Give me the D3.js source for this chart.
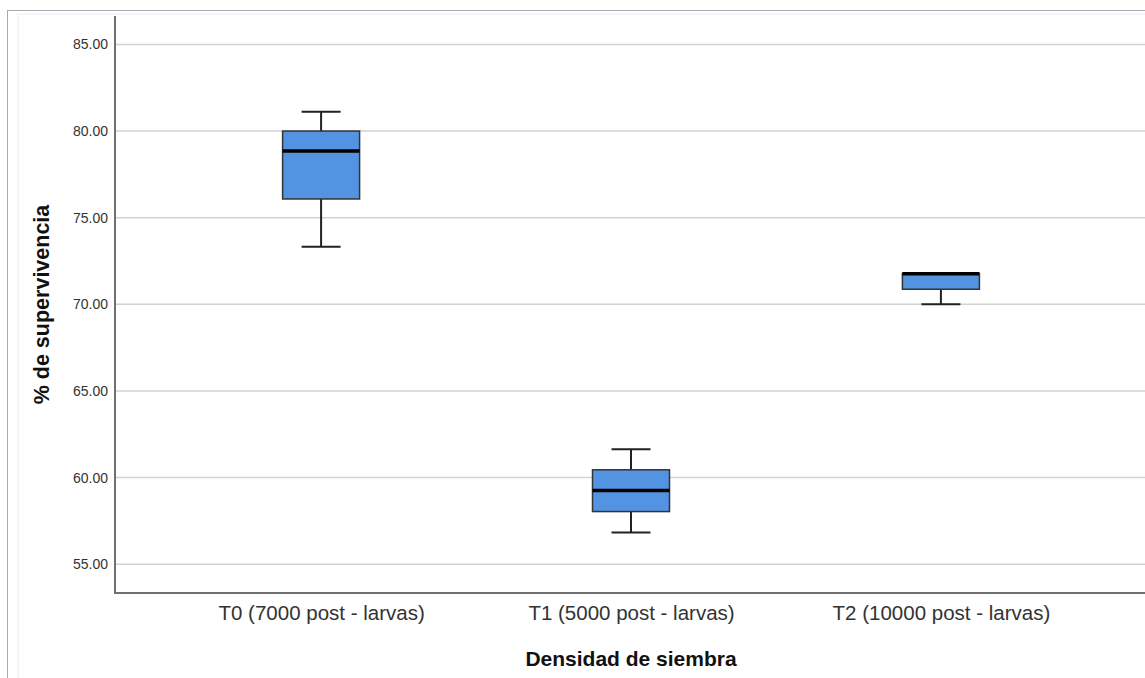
<!DOCTYPE html>
<html>
<head>
<meta charset="utf-8">
<script src="https://cdn.jsdelivr.net/npm/d3@7"></script>
<style>
  body { margin: 0; background: #fff; }
  svg { display: block; font-family: "Liberation Sans", Arial, sans-serif; }
</style>
</head>
<body>
<script>
const categories = ["T0 (7000 post - larvas)", "T1 (5000 post - larvas)", "T2 (10000 post - larvas)"];
const whiskerLow = [73.33, 56.83, 70.0];
const q1 = [76.08, 58.04, 70.87];
const medians = [78.85, 59.25, 71.76];
const q3 = [80.0, 60.45, 71.78];
const whiskerHigh = [81.12, 61.64, 71.78];
const yTicks = [55, 60, 65, 70, 75, 80, 85];

const w = 1145, h = 678;
const plotLeft = 115, plotTop = 16, plotBottom = 593, plotRight = 1147;

const svg = d3.select("body").append("svg").attr("width", w).attr("height", h);

// outer frame
svg.append("rect").attr("x", 7.5).attr("y", 10.5).attr("width", w + 10).attr("height", h + 10)
  .attr("fill", "none").attr("stroke", "#aaa").attr("stroke-width", 1);
svg.append("rect").attr("x", 18).attr("y", 14).attr("width", w).attr("height", h)
  .attr("fill", "none").attr("stroke", "#f0f6fd").attr("stroke-width", 2);

const y = d3.scaleLinear().domain([53.34, 86.64]).range([plotBottom, plotTop]);
const x = d3.scalePoint().domain(categories).range([plotLeft, plotRight]).padding(0.665);

const data = categories.map((c, i) => ({
  cat: c, lo: whiskerLow[i], q1: q1[i], med: medians[i], q3: q3[i], hi: whiskerHigh[i]
}));

// gridlines
svg.append("g").selectAll("line").data(yTicks).enter().append("line")
  .attr("x1", plotLeft).attr("x2", w)
  .attr("y1", d => y(d)).attr("y2", d => y(d))
  .attr("stroke", "#d2d2d2").attr("stroke-width", 1.5);

// y axis
const yAxis = svg.append("g").attr("transform", "translate(" + plotLeft + ",0)")
  .call(d3.axisLeft(y).tickValues(yTicks).tickSize(0).tickPadding(7).tickFormat(d3.format(".2f")));
yAxis.select(".domain").remove();
yAxis.selectAll("text").attr("font-size", "14px").attr("fill", "#333");

// x axis
const xAxis = svg.append("g").attr("transform", "translate(0," + plotBottom + ")")
  .call(d3.axisBottom(x).tickSize(0).tickPadding(12));
xAxis.select(".domain").remove();
xAxis.selectAll("text").attr("font-size", "20.5px").attr("fill", "#333");

svg.append("line").attr("x1", plotLeft).attr("x2", plotLeft).attr("y1", plotTop).attr("y2", plotBottom + 1)
  .attr("stroke", "#707070").attr("stroke-width", 2);
svg.append("line").attr("x1", plotLeft - 1).attr("x2", w).attr("y1", plotBottom).attr("y2", plotBottom)
  .attr("stroke", "#707070").attr("stroke-width", 2);

// boxes
const boxW = 77, capW = 39;
const g = svg.append("g").selectAll("g").data(data).enter().append("g");

g.append("line").attr("x1", d => x(d.cat)).attr("x2", d => x(d.cat))
  .attr("y1", d => y(d.lo)).attr("y2", d => y(d.hi))
  .attr("stroke", "#222").attr("stroke-width", 2);
g.append("line").attr("x1", d => x(d.cat) - capW / 2).attr("x2", d => x(d.cat) + capW / 2)
  .attr("y1", d => y(d.lo)).attr("y2", d => y(d.lo))
  .attr("stroke", "#222").attr("stroke-width", 2);
g.append("line").attr("x1", d => x(d.cat) - capW / 2).attr("x2", d => x(d.cat) + capW / 2)
  .attr("y1", d => y(d.hi)).attr("y2", d => y(d.hi))
  .attr("stroke", "#222").attr("stroke-width", 2);
g.append("rect").attr("x", d => x(d.cat) - boxW / 2).attr("width", boxW)
  .attr("y", d => y(d.q3)).attr("height", d => y(d.q1) - y(d.q3))
  .attr("fill", "#5294e2").attr("stroke", "#333").attr("stroke-width", 1.5);
g.append("line").attr("x1", d => x(d.cat) - boxW / 2).attr("x2", d => x(d.cat) + boxW / 2)
  .attr("y1", d => y(d.med)).attr("y2", d => y(d.med))
  .attr("stroke", "#000").attr("stroke-width", 3.5);

// titles
svg.append("text").attr("x", x(categories[1])).attr("y", 666)
  .attr("text-anchor", "middle").attr("font-weight", "bold").attr("font-size", "21px")
  .attr("fill", "#111").text("Densidad de siembra");
svg.append("text").attr("transform", "translate(49," + ((plotTop + plotBottom) / 2) + ") rotate(-90)")
  .attr("text-anchor", "middle").attr("font-weight", "bold").attr("font-size", "21.5px")
  .attr("fill", "#111").text("% de supervivencia");
</script>
</body>
</html>
